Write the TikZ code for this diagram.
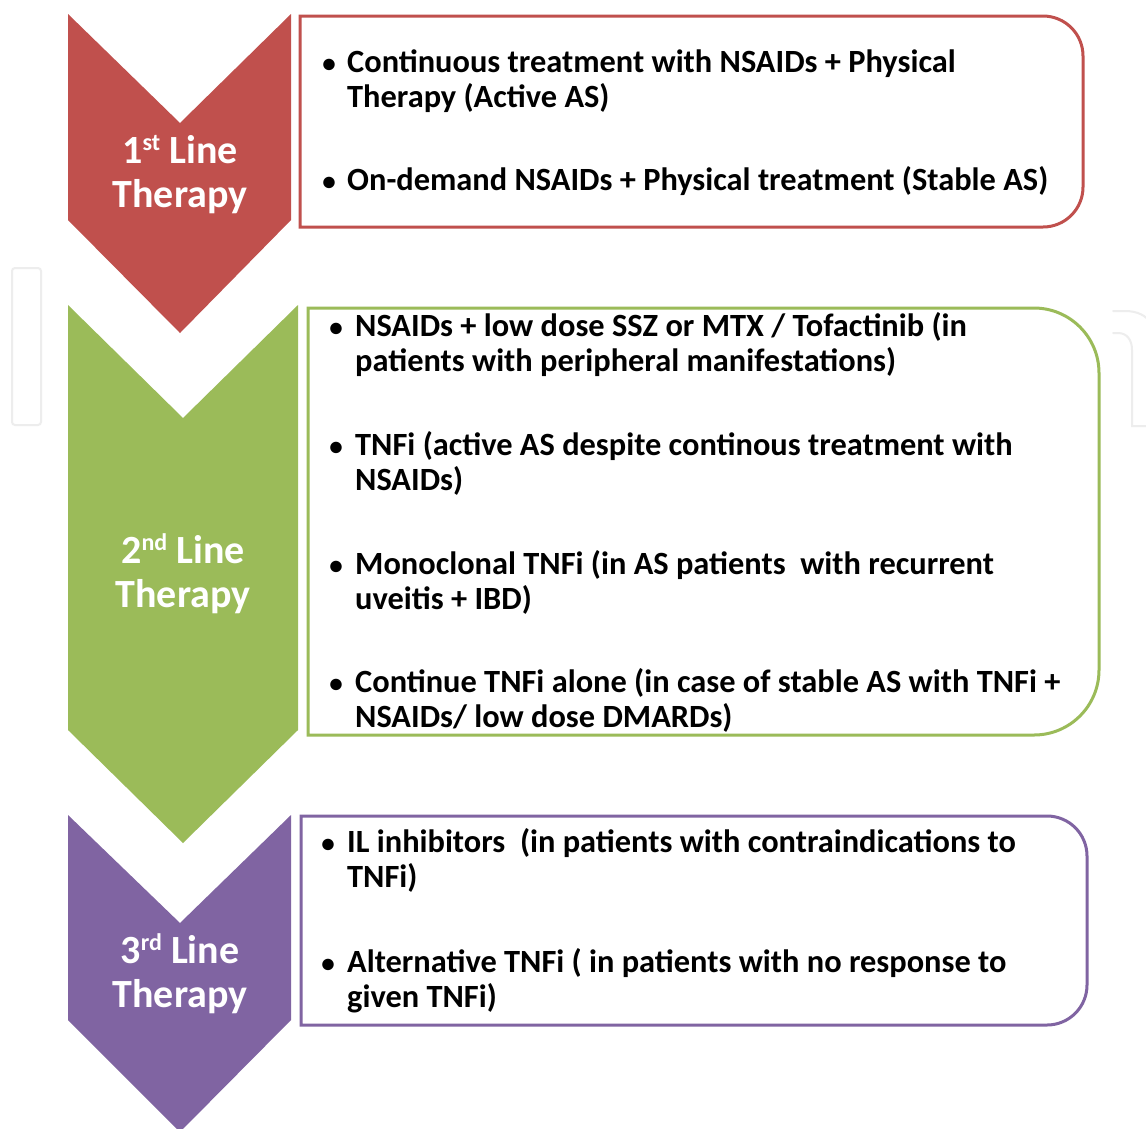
\documentclass[tikz,border=0pt]{standalone}
\usepackage{fontspec}
\setmainfont{Carlito}
\newcommand\supr[1]{\raisebox{13pt}{\fontsize{24}{24}\selectfont #1}}
\begin{document}
\begin{tikzpicture}[x=1pt,y=-1pt,
  boxline/.style={line width=3pt, fill=white},
  label/.style={text=white, font=\fontsize{40}{44}\selectfont\bfseries, align=center, inner sep=0pt},
  item/.style={font=\fontsize{32.4}{35}\selectfont\bfseries, align=left, inner sep=0pt, anchor=base west},
  dot/.style={font=\fontsize{27}{35}\selectfont\bfseries, inner sep=0pt, anchor=base},
  ghostline/.style={draw=black!7, line width=2pt}]
\definecolor{redc}{HTML}{C0504D}
\definecolor{greenc}{HTML}{9BBB59}
\definecolor{purplec}{HTML}{8064A2}
\newcommand\sidebox[6]{%
  \draw[boxline, draw=#6] (#1,#2) -- ({#3-#5},#2)
    arc[start angle=-90, end angle=0, radius=#5] -- (#3,{#4-#5})
    arc[start angle=0, end angle=90, radius=#5] -- (#1,#4) -- cycle;}
\fill[white] (0,0) rectangle (1146,1128);
\clip (0,0) rectangle (1146,1128);

% faint background lettering
\draw[ghostline, rounded corners=3pt] (12,268) rectangle (41,425);
\draw[ghostline, line cap=round] (1113,311) -- (1125,311) .. controls (1138,311) and (1146,316) .. (1150,322);
\draw[ghostline, line cap=round] (1113,333) -- (1118,333) .. controls (1127,333) and (1132,340) .. (1132,350) -- (1132,426) -- (1150,426);

% chevrons
\fill[redc] (68,14) -- (180,123) -- (291,14) -- (291,220) -- (180,333) -- (68,220) -- cycle;
\fill[greenc] (68,305) -- (183,418) -- (298,305) -- (298,730) -- (183,843) -- (68,730) -- cycle;
\fill[purplec] (68,815) -- (180,923) -- (291,815) -- (291,1020) -- (180,1132) -- (68,1020) -- cycle;

% chevron labels (anchored at the baseline of the last line)
\node[label, anchor=base] (l1) at (180,207) {1\supr{st} Line\\Therapy};
\node[label, anchor=base] (l2) at (183,607) {2\supr{nd} Line\\Therapy};
\node[label, anchor=base] (l3) at (180,1007) {3\supr{rd} Line\\Therapy};

% boxes
\sidebox{300}{16}{1083}{227}{40}{redc}
\sidebox{308}{308}{1099}{735}{65}{greenc}
\sidebox{301}{816}{1087}{1025}{40}{purplec}

% first line items
\node[dot] (b1) at (329,72) {\textbullet};
\node[item] (t1) at (347,107) {Continuous treatment with NSAIDs + Physical\\Therapy (Active AS)};
\node[dot] (b2) at (329,190) {\textbullet};
\node[item] (t2) at (347,190) {On-demand NSAIDs + Physical treatment (Stable AS)};

% second line items
\node[dot] (b3) at (336,336) {\textbullet};
\node[item] (t3) at (355,371) {NSAIDs + low dose SSZ or MTX / Tofactinib (in\\patients with peripheral manifestations)};
\node[dot] (b4) at (336,455) {\textbullet};
\node[item] (t4) at (355,490) {TNFi (active AS despite continous treatment with\\NSAIDs)};
\node[dot] (b5) at (336,574) {\textbullet};
\node[item] (t5) at (355,609) {Monoclonal TNFi (in AS patients\ \ with recurrent\\uveitis + IBD)};
\node[dot] (b6) at (336,692) {\textbullet};
\node[item] (t6) at (355,727) {Continue TNFi alone (in case of stable AS with TNFi +\\NSAIDs/ low dose DMARDs)};

% third line items
\node[dot] (b7) at (328,852) {\textbullet};
\node[item] (t7) at (347,887) {IL inhibitors\ \ (in patients with contraindications to\\TNFi)};
\node[dot] (b8) at (328,972) {\textbullet};
\node[item] (t8) at (347,1007) {Alternative TNFi ( in patients with no response to\\given TNFi)};
\end{tikzpicture}
\end{document}
